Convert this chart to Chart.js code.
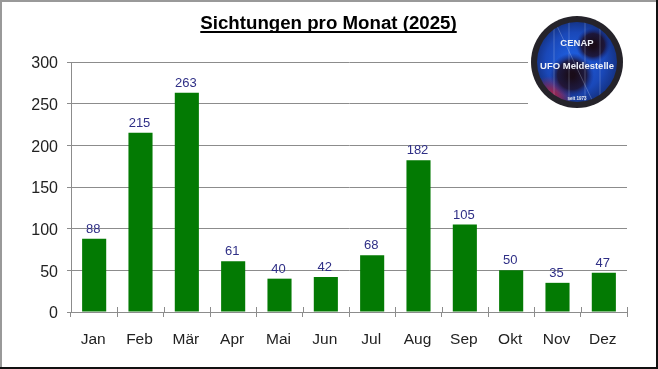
<!DOCTYPE html>
<html>
<head>
<meta charset="utf-8">
<title>Sichtungen pro Monat (2025)</title>
<script src="https://cdn.jsdelivr.net/npm/chart.js@4"></script>
<style>
  html, body { margin: 0; padding: 0; background: #fff; }
  #wrap { width: 658px; height: 369px; }
  canvas { display: block; }
</style>
</head>
<body>
<div id="wrap"><canvas id="sightingsChart" width="658" height="369"></canvas></div>
<script>
const months = ["Jan", "Feb", "Mär", "Apr", "Mai", "Jun", "Jul", "Aug", "Sep", "Okt", "Nov", "Dez"];
const sightings = [88, 215, 263, 61, 40, 42, 68, 182, 105, 50, 35, 47];
const chartTitle = "Sichtungen pro Monat (2025)";
const fontName = "'Liberation Sans', Arial, sans-serif";

// grey/black picture frame behind the chart
const framePlugin = {
  id: "frame",
  beforeDraw(chart) {
    const { ctx, width, height } = chart;
    ctx.save();
    ctx.fillStyle = "#fff";
    ctx.fillRect(0, 0, width, height);
    ctx.fillStyle = "#999";
    ctx.fillRect(0, 0, width, 2);
    ctx.fillRect(0, 0, 2, height);
    ctx.fillStyle = "#111";
    ctx.fillRect(0, height - 2, width, 2);
    ctx.fillRect(width - 2, 0, 2, height);
    ctx.restore();
  }
};

// value labels above the bars, the underlined title, and the x ticks that cross the axis
const labelPlugin = {
  id: "barLabels",
  afterDatasetsDraw(chart) {
    const { ctx, scales } = chart;
    const bars = chart.getDatasetMeta(0).data;
    ctx.save();

    const step = scales.x.width / months.length;
    ctx.strokeStyle = "#8c8c8c";
    ctx.lineWidth = 1;
    ctx.beginPath();
    for (let i = 0; i <= months.length; i++) {
      const x = Math.round(scales.x.left + i * step) + 0.5;
      ctx.moveTo(x, scales.y.bottom - 5);
      ctx.lineTo(x, scales.y.bottom);
    }
    ctx.stroke();

    ctx.font = "13px " + fontName;
    ctx.fillStyle = "#2f2f86";
    ctx.textAlign = "center";
    ctx.textBaseline = "alphabetic";
    bars.forEach((bar, i) => {
      ctx.fillText(sightings[i], bar.x - 1, bar.y - 6);
    });

    ctx.font = "bold 18.7px " + fontName;
    ctx.fillStyle = "#000";
    ctx.fillText(chartTitle, 328.5, 29);
    const w = ctx.measureText(chartTitle).width;
    ctx.fillRect(328.5 - w / 2, 31, w, 2);
    ctx.restore();
  }
};

// CENAP badge in the upper right corner
const logoPlugin = {
  id: "logo",
  afterDraw(chart) {
    const { ctx } = chart;
    const cx = 577, cy = 62, r = 46;
    ctx.save();
    ctx.fillStyle = "#fff";
    ctx.fillRect(528, 14, 99, 100);

    ctx.beginPath();
    ctx.arc(cx, cy, r, 0, Math.PI * 2);
    ctx.fillStyle = "#25232a";
    ctx.fill();

    ctx.save();
    ctx.beginPath();
    ctx.arc(cx, cy, r - 6, 0, Math.PI * 2);
    ctx.clip();
    const bg = ctx.createRadialGradient(cx - 5, cy, 5, cx, cy, r);
    bg.addColorStop(0, "#1f5fe0");
    bg.addColorStop(0.6, "#1a48b8");
    bg.addColorStop(1, "#122a70");
    ctx.fillStyle = bg;
    ctx.fillRect(cx - r, cy - r, r * 2, r * 2);

    const red = ctx.createRadialGradient(cx - 27, cy + 36, 2, cx - 27, cy + 36, 22);
    red.addColorStop(0, "rgba(215,30,50,0.85)");
    red.addColorStop(1, "rgba(215,30,50,0)");
    ctx.fillStyle = red;
    ctx.fillRect(cx - r, cy - r, r * 2, r * 2);

    [[16, -17, 17], [-5, 13, 22]].forEach(([dx, dy, rad]) => {
      const g = ctx.createRadialGradient(cx + dx, cy + dy, 3, cx + dx, cy + dy, rad);
      g.addColorStop(0, "rgba(25,8,15,0.95)");
      g.addColorStop(0.6, "rgba(30,12,30,0.8)");
      g.addColorStop(1, "rgba(20,30,110,0)");
      ctx.fillStyle = g;
      ctx.fillRect(cx - r, cy - r, r * 2, r * 2);
    });

    ctx.strokeStyle = "rgba(200,215,245,0.35)";
    ctx.lineWidth = 0.8;
    ctx.beginPath();
    [-23, -8, 8, 23].forEach(dx => {
      ctx.moveTo(cx + dx, cy - r);
      ctx.lineTo(cx + dx, cy + r);
    });
    ctx.moveTo(cx - 20, cy - 36);
    ctx.lineTo(cx + 16, cy + 40);
    ctx.stroke();
    ctx.restore();

    ctx.fillStyle = "#eef1f8";
    ctx.textAlign = "center";
    ctx.textBaseline = "middle";
    ctx.font = "bold 9.5px " + fontName;
    ctx.fillText("CENAP", cx, cy - 19);
    ctx.font = "bold 9.5px " + fontName;
    ctx.fillText("UFO Meldestelle", cx, cy + 4);
    ctx.font = "bold 4.5px " + fontName;
    ctx.fillText("seit 1973", cx, cy + 37);
    ctx.restore();
  }
};

new Chart(document.getElementById("sightingsChart"), {
  type: "bar",
  data: {
    labels: months,
    datasets: [{
      data: sightings,
      backgroundColor: "#037a03",
      borderWidth: 0,
      categoryPercentage: 1,
      barPercentage: 0.52
    }]
  },
  plugins: [framePlugin, labelPlugin, logoPlugin],
  options: {
    responsive: false,
    animation: false,
    layout: { padding: { left: 0, right: 31, top: 62, bottom: 0 } },
    plugins: {
      legend: { display: false },
      tooltip: { enabled: false },
      title: { display: false }
    },
    scales: {
      x: {
        afterFit(scale) { scale.height = 57; },
        grid: {
          offset: true,
          drawOnChartArea: false,
          color: "#8c8c8c",
          tickLength: 5
        },
        border: { color: "#8c8c8c" },
        ticks: {
          color: "#222",
          font: { family: fontName, size: 15.5 },
          maxRotation: 0,
          autoSkip: false,
          padding: 13,
          labelOffset: -1
        }
      },
      y: {
        min: 0,
        max: 300,
        afterFit(scale) { scale.width = 71; },
        grid: { color: "#8c8c8c", tickLength: 4 },
        border: { color: "#8c8c8c" },
        ticks: {
          stepSize: 50,
          color: "#222",
          font: { family: fontName, size: 16 },
          padding: 9,
          labelOffset: 2
        }
      }
    }
  }
});
</script>
</body>
</html>
